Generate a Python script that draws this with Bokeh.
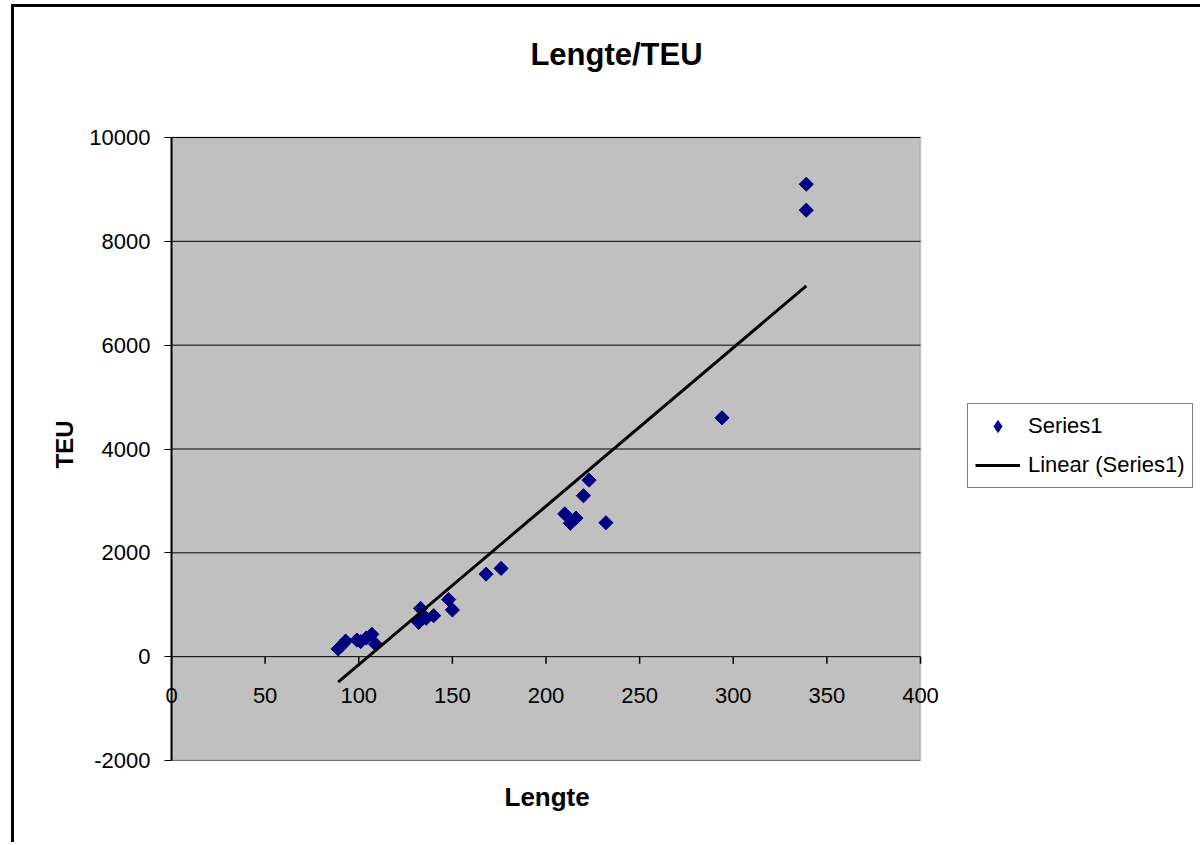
import numpy as np
from bokeh.plotting import figure
from bokeh.models import (Range1d, FixedTicker, Legend, LegendItem, CustomJSTickFormatter,
                          Label, BoxAnnotation, Title)
from bokeh.embed import file_html
from bokeh.resources import INLINE

# Data
lengte = [89, 91, 93, 99, 101, 104, 107, 109,
          132, 133, 135, 136, 140, 148, 150,
          168, 176,
          210, 213, 216, 220, 223, 232,
          294, 339, 339]
teu = [150, 220, 300, 320, 290, 360, 430, 240,
       660, 930, 770, 740, 790, 1100, 900,
       1590, 1700,
       2750, 2570, 2670, 3100, 3400, 2580,
       4600, 8600, 9100]

x_ticks = [0, 50, 100, 150, 200, 250, 300, 350, 400]
y_ticks = [-2000, 0, 2000, 4000, 6000, 8000, 10000]
x_min, x_max = 0, 400
y_min, y_max = -2000, 10000

title_text = "Lengte/TEU"
x_label = "Lengte"
y_label = "TEU"
series_name = "Series1"
trend_name = "Linear (Series1)"

FONT = "Liberation Sans"

# ---- layout (pixels) ----
OFF_X, OFF_Y = 14, 7            # CSS border / margin of the chart area
W, H = 1203 - OFF_X, 845 - OFF_Y
LEFT, BOTTOM = 171 - OFF_X, 85  # room for the y axis / x labels
AREA_W, AREA_H = 749, 623       # grey plot area in pixels
frame_w = W - LEFT
frame_h = H - BOTTOM
# the frame extends beyond the grey plot area (to the right and the top) so that
# the title and legend can live inside it
x_end = x_min + (x_max - x_min) * frame_w / AREA_W
y_end = y_min + (y_max - y_min) * frame_h / AREA_H

p = figure(width=W, height=H, output_backend="svg", toolbar_location=None,
           x_range=Range1d(x_min, x_end), y_range=Range1d(y_min, y_end),
           min_border_left=LEFT, min_border_right=0,
           min_border_top=0, min_border_bottom=BOTTOM)
p.title = None
p.styles = {"border-top": "3px solid black", "border-left": "3px solid black",
            "margin-left": "11px", "margin-top": "4px"}

p.background_fill_color = "white"
p.border_fill_color = "white"
p.outline_line_color = None

# grey plot area
p.add_layout(BoxAnnotation(left=x_min, right=x_max, bottom=y_min, top=y_max,
                           fill_color="#C0C0C0", fill_alpha=1,
                           line_color="#808080", line_width=2, level="image"))

# horizontal gridlines, limited to the plot area
p.grid.visible = False
p.segment(x0=[x_min] * len(y_ticks), y0=y_ticks, x1=[x_max] * len(y_ticks), y1=y_ticks,
          line_color="black", line_width=1, level="underlay")

fmt = CustomJSTickFormatter(code="return tick.toFixed(0)")

# x axis: labels shown just below the y=0 line
xa = p.xaxis[0]
xa.ticker = FixedTicker(ticks=x_ticks)
xa.bounds = (x_min, x_max)
xa.formatter = fmt
xa.minor_tick_line_color = None
xa.major_tick_line_color = None
xa.axis_line_color = None
xa.major_label_text_font = FONT
xa.major_label_text_font_size = "22px"
xa.major_label_text_color = "black"
xa.major_label_standoff = -79

ya = p.yaxis[0]
ya.ticker = FixedTicker(ticks=y_ticks)
ya.bounds = (y_min, y_max)
ya.formatter = fmt
ya.minor_tick_line_color = None
ya.major_tick_in = 0
ya.major_tick_out = 7
ya.major_tick_line_color = "black"
ya.axis_line_color = "black"
ya.axis_line_width = 2
ya.major_label_text_font = FONT
ya.major_label_text_font_size = "22px"
ya.major_label_text_color = "black"
ya.major_label_standoff = 14

# axis titles, positioned along the plot area
p.add_layout(Title(text=y_label, align="left", offset=292, standoff=18,
                   text_font=FONT, text_font_size="24px", text_font_style="bold",
                   text_color="black"), "left")
p.add_layout(Title(text=x_label, align="left", offset=333, standoff=39,
                   text_font=FONT, text_font_size="26px", text_font_style="bold",
                   text_color="black"), "below")

# tick marks of the horizontal axis that crosses at y=0
tick_len = (y_max - y_min) / AREA_H * 7
p.segment(x0=x_ticks, y0=[0] * len(x_ticks), x1=x_ticks, y1=[-tick_len] * len(x_ticks),
          line_color="black", line_width=1.5)

# data
pts = p.scatter(lengte, teu, marker="square", angle=np.pi / 4, size=10,
                fill_color="#000080", line_color="#000080")
# legend swatch (diamond), zero-size on the plot itself
swatch = p.scatter(x=lengte[:1], y=teu[:1], marker="diamond", size=0,
                   fill_color="#000080", line_color="#000080")

coef = np.polyfit(np.array(lengte, dtype=float), np.array(teu, dtype=float), 1)
tx = np.array([min(lengte), max(lengte)], dtype=float)
ty = np.polyval(coef, tx)
trend = p.line(tx, ty, line_color="black", line_width=3)

# title, centred over the chart
p.add_layout(Label(x=445, y=706, x_units="screen", y_units="screen", text=title_text,
                   text_font=FONT, text_font_size="31px", text_font_style="bold",
                   text_align="center", text_baseline="middle", text_color="black"))

# legend
legend = Legend(items=[LegendItem(label=series_name, renderers=[swatch]),
                       LegendItem(label=trend_name, renderers=[trend])],
                location=(796, 272), orientation="vertical")
legend.label_text_font = FONT
legend.label_text_font_size = "22px"
legend.label_text_color = "black"
legend.label_height = 26
legend.glyph_height = 30
legend.glyph_width = 45
legend.label_standoff = 8
legend.spacing = 9
legend.padding = 7
legend.margin = 0
legend.border_line_color = "black"
legend.border_line_width = 1
legend.background_fill_color = "white"
legend.background_fill_alpha = 1
p.add_layout(legend, "center")

open("out.html", "w").write(file_html(p, INLINE))
